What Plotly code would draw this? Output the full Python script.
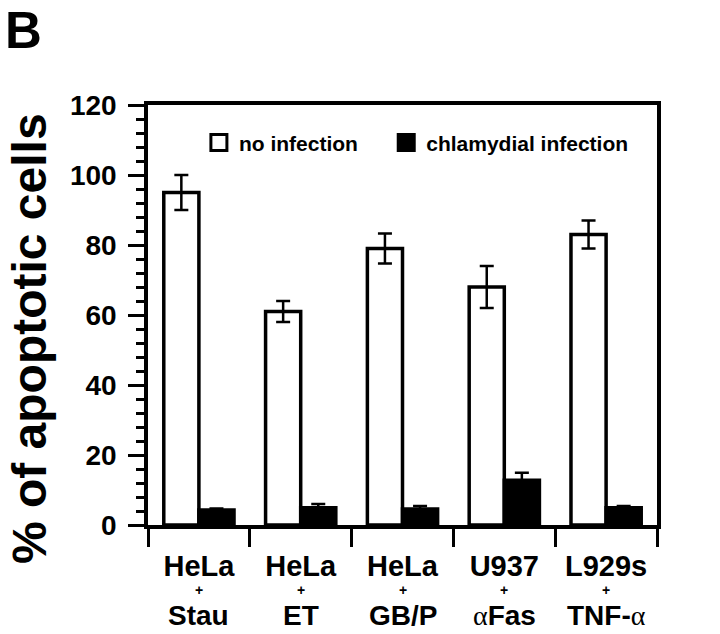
import plotly.graph_objects as go

# ---- data ----
treatments = ["Stau", "ET", "GB/P", "αFas", "TNF-α"]
cell_lines = ["HeLa", "HeLa", "HeLa", "U937", "L929s"]
no_infection = [95, 61, 79, 68, 83]
no_infection_err = [5, 3, 4.3, 6, 4]
chlamydial = [4.3, 4.9, 4.6, 12.8, 4.9]
chlamydial_err = [0.4, 1.1, 0.8, 2.1, 0.5]
y_ticks = [0, 20, 40, 60, 80, 100, 120]
series_names = ["no infection", "chlamydial infection"]

FONT = "Liberation Sans, Arial, Helvetica, sans-serif"
ALPHA = "<span style='font-family:Liberation Serif, Times New Roman, serif;font-weight:normal'>α</span>"
NBSP = "\u00a0"

def fmt(t):
    return t.replace("α", ALPHA)

fig = go.Figure()
fig.add_trace(go.Bar(
    x=treatments, y=no_infection, name=series_names[0], showlegend=False,
    marker=dict(color="white", line=dict(color="black", width=3.5)),
    error_y=dict(type="data", array=no_infection_err, color="black", thickness=2.5, width=7),
))
fig.add_trace(go.Bar(
    x=treatments, y=chlamydial, name=series_names[1], showlegend=False,
    marker=dict(color="black", line=dict(color="black", width=3.5)),
    error_y=dict(type="data", array=chlamydial_err, color="black", thickness=2.5, width=7),
))
# legend entries
fig.add_trace(go.Scatter(
    x=[None], y=[None], mode="markers", name=series_names[0] + NBSP * 4,
    marker=dict(symbol="square", size=16, color="white", line=dict(color="black", width=3)),
))
fig.add_trace(go.Scatter(
    x=[None], y=[None], mode="markers", name=series_names[1],
    marker=dict(symbol="square", size=16, color="black", line=dict(color="black", width=3)),
))

annotations = []
for t in treatments:
    annotations.append(dict(x=t, y=0, xref="x", yref="paper", text="<b>+</b>",
                            showarrow=False, yanchor="middle", yshift=-65,
                            font=dict(family=FONT, size=14, color="black")))
    annotations.append(dict(x=t, y=0, xref="x", yref="paper", text="<b>" + fmt(t) + "</b>",
                            showarrow=False, yanchor="middle", yshift=-90,
                            font=dict(family=FONT, size=28, color="black")))
annotations.append(dict(x=-0.2338, y=0.445, xref="paper", yref="paper",
                        text="<b>% of apoptotic cells</b>", textangle=-90,
                        showarrow=False, xanchor="center", yanchor="middle",
                        font=dict(family=FONT, size=48, color="black")))
annotations.append(dict(x=-0.245, y=1.25, xref="paper", yref="paper",
                        text="<b>B</b>", showarrow=False, xanchor="center", yanchor="top",
                        font=dict(family=FONT, size=51, color="black")))

fig.update_layout(
    width=720, height=634,
    margin=dict(l=148, r=63, t=105, b=109),
    paper_bgcolor="white", plot_bgcolor="white",
    barmode="group", bargap=0.31, bargroupgap=0,
    showlegend=True,
    legend=dict(orientation="h", x=0.100, y=0.91, xanchor="left", yanchor="middle",
                font=dict(family=FONT, size=21, color="black", weight="bold"),
                bgcolor="rgba(0,0,0,0)", itemclick=False),
    annotations=annotations,
    font=dict(family=FONT, color="black"),
)
fig.update_xaxes(
    type="category", tickvals=treatments, ticktext=cell_lines,
    tickson="boundaries", ticks="outside", ticklen=18, tickwidth=3, tickcolor="black",
    showline=True, linewidth=3.5, linecolor="black", mirror=True,
    showgrid=False, zeroline=False, ticklabelstandoff=12,
    tickfont=dict(family=FONT, size=29, color="black", weight="bold"),
)
fig.update_yaxes(
    range=[0, 120], tickvals=y_ticks, ticks="outside", ticklen=16, tickwidth=3, tickcolor="black",
    minor=dict(dtick=4, ticks="outside", ticklen=8, tickwidth=2.5, tickcolor="black"),
    showline=True, linewidth=3.5, linecolor="black", mirror=True,
    showgrid=False, zeroline=False, ticklabelstandoff=6,
    tickfont=dict(family=FONT, size=28, color="black", weight="bold"),
)

fig.write_html("out.html", config={"displayModeBar": False},
               post_script="document.body.style.margin='0';")
